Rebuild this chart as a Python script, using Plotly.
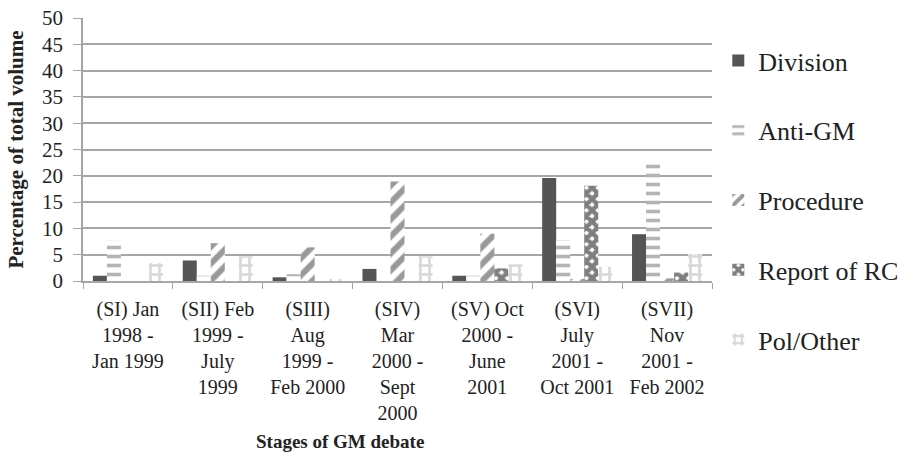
import plotly.graph_objects as go

stages = ["(SI) Jan<br>1998 -<br>Jan 1999", "(SII) Feb<br>1999 -<br>July<br>1999",
          "(SIII)<br>Aug<br>1999 -<br>Feb 2000", "(SIV)<br>Mar<br>2000 -<br>Sept<br>2000",
          "(SV) Oct<br>2000 -<br>June<br>2001", "(SVI)<br>July<br>2001 -<br>Oct 2001",
          "(SVII)<br>Nov<br>2001 -<br>Feb 2002"]
division = [1.0, 3.9, 0.7, 2.3, 1.0, 19.6, 8.9]
anti_gm = [7.7, 1.0, 1.3, 0.0, 1.0, 7.8, 22.9]
procedure = [0.0, 7.2, 6.4, 18.9, 9.0, 0.4, 0.5]
report_rc = [0.0, 0.0, 0.0, 0.0, 2.4, 18.1, 1.6]
pol_other = [3.4, 4.7, 0.3, 4.7, 3.2, 2.7, 5.1]
y_ticks = [0, 5, 10, 15, 20, 25, 30, 35, 40, 45, 50]

FONT = "Liberation Serif"
W, H = 909, 456

series = [
    ("Division", division, dict(color="#555555")),
    ("Anti-GM", anti_gm, dict(color="white", pattern=dict(shape="-", fgcolor="#6a6a6a", bgcolor="white", size=9, solidity=0.4))),
    ("Procedure", procedure, dict(color="white", pattern=dict(shape="/", fgcolor="#333333", bgcolor="white", size=12, solidity=0.5))),
    ("Report of RC", report_rc, dict(color="white", pattern=dict(shape="x", fgcolor="#000000", bgcolor="white", size=8, solidity=0.8))),
    ("Pol/Other", pol_other, dict(color="white", pattern=dict(shape="+", fgcolor="#b0b0b0", bgcolor="white", size=9, solidity=0.5))),
]

fig = go.Figure()
for name, vals, marker in series:
    fig.add_trace(go.Bar(x=stages, y=vals, name=name, legendgroup=name,
                         marker=dict(line=dict(width=0), **marker)))

fig.update_layout(
    width=W, height=H,
    margin=dict(l=83, r=197, t=18, b=175, autoexpand=False),
    paper_bgcolor="white", plot_bgcolor="white",
    barmode="group", bargap=0.22, bargroupgap=0,
    font=dict(family=FONT, size=18, color="#222222"),
    legend=dict(x=1.01, y=1 - 37 / H, xref="paper", yref="container",
                xanchor="left", yanchor="top",
                font=dict(size=26, family=FONT), tracegroupgap=33, maxheight=1,
                itemwidth=30, bgcolor="rgba(0,0,0,0)"),
    showlegend=True,
)
fig.update_yaxes(range=[0, 50], tickvals=y_ticks, showgrid=True, gridcolor="#a6a6a6", gridwidth=1.5,
                 showline=True, linecolor="#a6a6a6", linewidth=1.5, ticks="outside", ticklen=8,
                 tickcolor="#a6a6a6", tickfont=dict(size=21), zeroline=False, automargin=False,
                 ticklabelstandoff=6, ticklabeloverflow="allow",
                 title=dict(text="<b>Percentage of total volume</b>", font=dict(size=21), standoff=13))
fig.update_xaxes(showline=True, linecolor="#a6a6a6", linewidth=1.5, ticks="outside", ticklen=6,
                 tickcolor="#a6a6a6", tickson="boundaries", tickfont=dict(size=20), automargin=False,
                 ticklabelstandoff=9, ticklabeloverflow="allow")
fig.add_annotation(text="<b>Stages of GM debate</b>", xref="paper", yref="paper",
                   x=(340 - 83) / (W - 83 - 197), y=-0.61, xanchor="center", yanchor="middle",
                   showarrow=False, font=dict(size=19, family=FONT))

fig.write_html("out.html", config={"displayModeBar": False},
               post_script="document.body.style.margin='0';document.body.style.padding='0';")
